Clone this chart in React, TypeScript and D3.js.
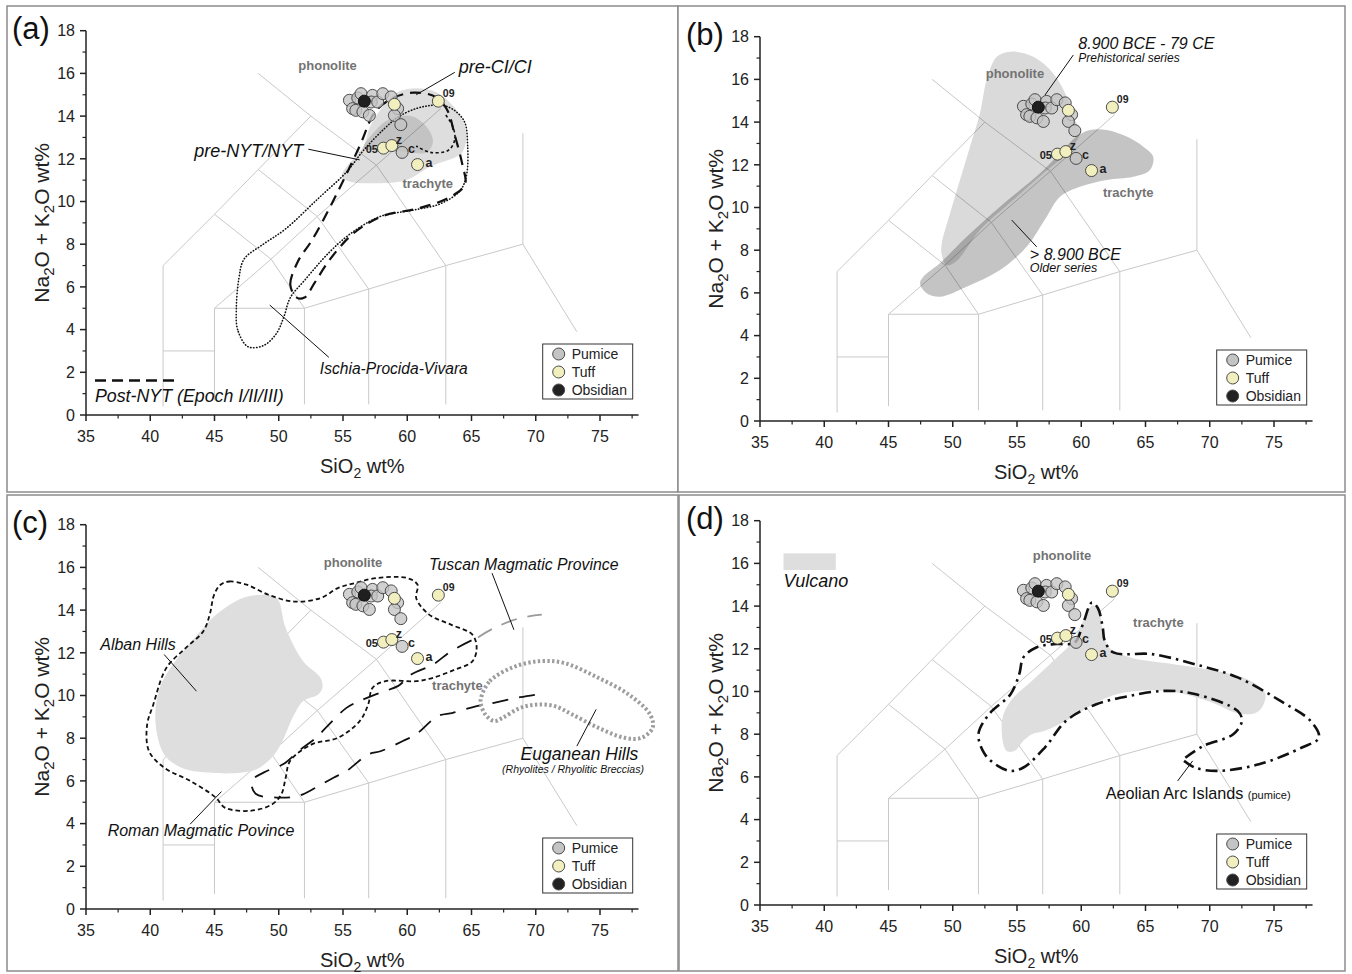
import React from 'react';
import * as d3 from 'd3';

type Pt = [number, number];

// axis ticks
const xTicks = [35, 40, 45, 50, 55, 60, 65, 70, 75];
const xMinorTicks = [37.5, 42.5, 47.5, 52.5, 57.5, 62.5, 67.5, 72.5, 77.5];
const yTicks = [0, 2, 4, 6, 8, 10, 12, 14, 16, 18];
const yMinorTicks = [1, 3, 5, 7, 9, 11, 13, 15, 17];

// samples (SiO2 wt%, Na2O+K2O wt%)
const pumiceSiO2 = [55.5, 56.15, 56.4, 55.75, 56.0, 56.55, 57.05, 57.3, 57.2, 57.7, 58.1, 58.75, 59.25, 59.0, 59.5, 59.6];
const pumiceAlk = [14.74, 14.85, 15.05, 14.35, 14.27, 14.2, 14.03, 14.97, 14.66, 14.66, 15.05, 14.9, 14.35, 14.03, 13.6, 12.3];
const tuffSiO2 = [59.0, 62.42, 58.15, 58.8, 60.8];
const tuffAlk = [14.55, 14.7, 12.5, 12.62, 11.73];
const obsidianSiO2 = [56.66];
const obsidianAlk = [14.7];

// sample names
const sampleNames = ['09', '05', 'z', 'c', 'a'];
const sampleSiO2 = [62.42, 58.15, 58.8, 59.6, 60.8];
const sampleAlk = [14.7, 12.5, 12.62, 12.3, 11.73];

// TAS field boundaries
const tasLines: Pt[][] = [
  [[41, 0.4], [41, 7], [45, 9.4], [48.4, 11.5], [52.5, 14]],
  [[41, 3], [45, 3]],
  [[45, 0.7], [45, 5], [52, 5], [57, 5.9], [63, 7], [69, 8], [69, 13.2]],
  [[69, 8], [73.2, 3.9]],
  [[45, 5], [49.4, 7.3], [53, 9.3], [57.6, 11.7], [62.6, 14.35]],
  [[52, 5], [49.4, 7.3], [45, 9.4]],
  [[57, 5.9], [53, 9.3], [48.4, 11.5]],
  [[63, 7], [57.6, 11.7], [52.5, 14], [48.4, 16]],
  [[52, 0.5], [52, 5]],
  [[57, 0.5], [57, 5.9]],
  [[63, 0.5], [63, 7]],
];

// (a) Campi Flegrei fields
const preNytField: Pt[] = [[54.9, 11.2], [56.6, 12.6], [57.1, 13.5], [58.1, 14.45], [59.2, 15.1], [60.7, 15.3], [62.3, 15.1], [63.6, 14.45], [64.4, 13.67], [64.6, 12.9], [64.25, 12.27], [63.85, 12.1], [61.8, 11.64], [60.0, 11.02], [57.9, 10.86], [55.5, 10.94]];
const preNytCore: Pt[] = [[56.6, 12.5], [57.5, 13.3], [58.6, 13.85], [60.3, 14.0], [61.5, 13.5], [62.0, 12.8], [61.5, 12.3], [59.5, 12.35], [57.8, 12.4]];
const preCiOutline: Pt[] = [[51.4, 5.5], [50.9, 6.1], [51.5, 7.2], [52.6, 8.2], [54.3, 10.1], [56.3, 12.6], [57.5, 14.2], [58.9, 14.85], [60.5, 15.1], [62.2, 14.9], [63.1, 14.3], [63.7, 13.1], [64.3, 11.7], [64.5, 10.8], [63.3, 10.2], [61, 9.7], [58, 9.3], [55.8, 8.5], [54, 7.3], [52.8, 6.2], [52, 5.5]];
const ischiaOutline: Pt[] = [[47.6, 3.2], [46.8, 4.0], [46.7, 5.0], [46.9, 6.4], [47.3, 7.3], [48.8, 8.0], [50.5, 8.7], [53, 10.1], [55.3, 11.4], [56.6, 12.4], [58.2, 13.4], [59.4, 14.0], [61.3, 14.45], [63.1, 14.45], [64.4, 13.8], [64.7, 12.6], [64.6, 11.2], [64.1, 10.5], [62.6, 9.9], [60.5, 9.6], [57.9, 9.3], [55.6, 8.5], [53.9, 7.6], [52, 6.3], [50.9, 5.5], [50.4, 4.6], [49.8, 3.8], [48.8, 3.25]];
const innerHook: Pt[] = [[63.0, 14.05], [63.55, 13.5], [63.7, 12.9], [63.2, 12.4], [61.8, 12.3], [60.7, 12.6]];
const postNytKey: Pt[] = [[35.7, 1.62], [41.9, 1.62]];

// (b) Somma-Vesuvius
const prehistoricField: Pt[] = [[54.46, 17.3], [56.27, 17.06], [57.83, 16.28], [58.87, 15.19], [59.38, 14.25], [59.9, 13.5], [58.87, 12.54], [57.05, 11.6], [54.7, 10.35], [52.12, 8.95], [50.3, 7.5], [49.5, 7.3], [49.14, 7.8], [49.14, 8.3], [49.79, 9.73], [50.56, 11.29], [51.34, 12.85], [52.12, 14.41], [52.64, 15.97], [53.42, 17.06]];
const olderField: Pt[] = [[47.45, 6.45], [47.97, 5.98], [49.0, 5.82], [51.08, 6.29], [53.68, 7.07], [55.75, 8.16], [57.31, 9.57], [58.35, 10.5], [59.9, 10.97], [61.98, 11.29], [64.05, 11.44], [65.35, 11.76], [65.6, 12.38], [64.83, 12.85], [63.54, 13.32], [61.98, 13.63], [60.68, 13.63], [59.64, 13.32], [58.35, 12.54], [56.79, 11.6], [53.68, 10.04], [51.08, 8.63], [49.0, 7.39], [47.71, 6.76]];

// (c) central Italy
const albanField: Pt[] = [[49.86, 14.56], [50.54, 13.16], [51.9, 11.6], [53.24, 10.83], [53.4, 10.36], [53.07, 10.05], [51.9, 9.74], [51.2, 9.11], [49.86, 7.4], [48.5, 6.62], [47.16, 6.39], [44.46, 6.39], [42.43, 6.62], [41.08, 7.24], [40.4, 8.8], [40.74, 10.36], [41.76, 11.45], [43.45, 12.69], [45.14, 13.79], [47.16, 14.56], [48.85, 14.72]];
const romanOutline: Pt[] = [[45.47, 15.19], [46.15, 15.34], [47.5, 15.19], [49.2, 14.72], [51.2, 14.4], [53.24, 14.56], [54.6, 15.03], [55.9, 15.26], [57.6, 15.5], [60.0, 15.5], [60.8, 15.19], [60.7, 14.56], [61.7, 13.79], [63.4, 13.32], [65.07, 12.85], [65.4, 12.23], [65.07, 11.6], [63.7, 11.21], [62.0, 10.83], [60.7, 10.67], [58.3, 10.67], [57.3, 10.36], [56.96, 9.58], [56.3, 8.8], [54.6, 8.02], [52.57, 7.71], [50.88, 6.93], [50.54, 6.15], [50.2, 5.37], [49.5, 4.91], [47.8, 4.6], [45.8, 4.75], [45.1, 5.22], [43.1, 6.0], [41.08, 6.62], [39.9, 7.4], [39.75, 8.6], [40.24, 9.58], [41.25, 11.29], [42.77, 12.23], [44.12, 13.0], [44.63, 13.79], [44.97, 14.72]];
const tuscanOutline: Pt[] = [[65.0, 12.58], [63.4, 12.07], [62.0, 11.45], [60.3, 10.98], [59.3, 10.45], [57.97, 10.15], [56.28, 9.74], [55.27, 9.42], [53.9, 8.64], [52.9, 8.02], [51.55, 7.4], [50.4, 6.8], [48.85, 6.4], [47.9, 6.0], [48.2, 5.4], [49.86, 5.22], [51.55, 5.3], [52.9, 5.69], [54.26, 6.15], [55.27, 6.46], [56.96, 7.24], [57.97, 7.4], [59.66, 7.87], [60.68, 8.18], [62.36, 9.03], [63.55, 9.19], [65.4, 9.5], [66.76, 9.66], [68.8, 9.92], [70.1, 10.05]];
const tuscanFaded: Pt[] = [[65.5, 12.72], [66.76, 13.16], [68.8, 13.63], [70.47, 13.79]];
const euganeanOutline: Pt[] = [[65.74, 9.89], [66.42, 10.67], [68.1, 11.29], [70.14, 11.6], [72.16, 11.53], [74.86, 10.83], [77.23, 10.05], [78.9, 9.11], [79.1, 8.49], [78.24, 8.02], [76.9, 8.02], [74.86, 8.49], [72.84, 9.11], [71.5, 9.5], [70.14, 9.58], [68.8, 9.42], [67.43, 8.96], [66.76, 8.8], [66.08, 9.11], [65.74, 9.58]];

// (d) Aeolian arc
const vulcanoField: Pt[] = [[54.17, 7.22], [53.83, 8.63], [54.5, 9.56], [56.17, 10.5], [57.83, 11.44], [59.17, 12.22], [60.17, 13.31], [60.83, 14.02], [61.33, 13.86], [61.67, 12.84], [62.17, 12.06], [63.83, 11.59], [67.17, 11.28], [70.5, 10.97], [73.17, 10.5], [74.33, 9.88], [73.83, 9.09], [72.5, 8.94], [69.83, 9.56], [66.5, 10.03], [62.83, 9.88], [60.5, 9.25], [58.83, 8.63], [57.17, 8.16], [56.17, 8.0], [55.5, 7.69], [54.83, 7.22]];
const aeolianOutline: Pt[] = [[68.1, 6.9], [69.5, 7.45], [71.83, 8.0], [72.5, 8.63], [72.17, 9.09], [68.83, 9.88], [66.5, 10.03], [63.83, 9.8], [61.17, 9.4], [58.83, 8.63], [57.17, 7.375], [55.5, 6.44], [54.5, 6.28], [53.5, 6.52], [52.5, 7.06], [52.0, 8.0], [52.83, 8.94], [54.5, 9.875], [55.17, 10.8], [55.5, 11.6], [56.5, 12.06], [57.83, 12.22], [59.5, 12.3], [60.1, 13.1], [60.83, 14.17], [61.3, 13.9], [61.67, 13.0], [61.83, 12.37], [62.5, 11.83], [65.5, 11.75], [68.83, 11.28], [72.17, 10.66], [75.5, 9.56], [77.83, 8.63], [78.5, 7.84], [77.17, 7.375], [73.83, 6.59], [70.5, 6.28], [68.83, 6.44], [68.0, 6.75]];
const vulcanoKey: Pt[] = [[36.83, 16.47], [40.9, 15.69]];

const FONT = "'Liberation Sans', Arial, Helvetica, sans-serif";
const PX_X = 12.85;
const PX_Y = 21.35;

interface PanelCfg { id: string; frame: [number, number, number, number]; ox: number; oy: number; }

const panels: PanelCfg[] = [
  { id: 'a', frame: [7, 6, 678, 492], ox: 86, oy: 415 },
  { id: 'b', frame: [678, 6, 1345, 492], ox: 760, oy: 421 },
  { id: 'c', frame: [7, 495, 678, 971], ox: 86, oy: 909 },
  { id: 'd', frame: [679, 495, 1345, 971], ox: 760, oy: 905 },
];

type Sc = d3.ScaleLinear<number, number>;

const closedPath = (x: Sc, y: Sc, pts: Pt[]) =>
  d3.line<Pt>().x(d => x(d[0])).y(d => y(d[1])).curve(d3.curveCatmullRomClosed.alpha(0.5))(pts) || '';
const openPath = (x: Sc, y: Sc, pts: Pt[]) =>
  d3.line<Pt>().x(d => x(d[0])).y(d => y(d[1])).curve(d3.curveCatmullRom.alpha(0.5))(pts) || '';
const straight = (x: Sc, y: Sc, pts: Pt[]) =>
  d3.line<Pt>().x(d => x(d[0])).y(d => y(d[1]))(pts) || '';

const Lbl = (p: any) => <text fontFamily={FONT} {...p} />;

const fieldName = (x: Sc, y: Sc, name: string, si: number, alk: number) => (
  <Lbl x={x(si)} y={y(alk)} textAnchor="middle" fontSize={13} fontWeight="bold" fill="#737373">{name}</Lbl>
);

const leader = (x: Sc, y: Sc, a: Pt, b: Pt) => (
  <line x1={x(a[0])} y1={y(a[1])} x2={x(b[0])} y2={y(b[1])} stroke="#111" strokeWidth={1} />
);

function overlayA(x: Sc, y: Sc) {
  return (
    <g>
      <path d={closedPath(x, y, preNytField)} fill="#000" fillOpacity={0.13} />
      <path d={closedPath(x, y, preNytCore)} fill="#000" fillOpacity={0.12} />
      <path d={closedPath(x, y, ischiaOutline)} fill="none" stroke="#111" strokeWidth={1.6} strokeDasharray="0.4 2.6" strokeLinecap="round" />
      <path d={closedPath(x, y, preCiOutline)} fill="none" stroke="#111" strokeWidth={2.2} strokeDasharray="11 7" />
      <path d={openPath(x, y, innerHook)} fill="none" stroke="#111" strokeWidth={1.6} strokeDasharray="3 2.5" />
      <path d={straight(x, y, postNytKey)} stroke="#111" strokeWidth={2.5} strokeDasharray="11 6" />
      {fieldName(x, y, 'phonolite', 53.8, 16.15)}
      {fieldName(x, y, 'trachyte', 61.6, 10.65)}
      {leader(x, y, [60.7, 15.0], [63.7, 16.05])}
      <Lbl x={x(64.0)} y={y(16.0)} fontSize={18} fontStyle="italic" fill="#111">pre-CI/CI</Lbl>
      {leader(x, y, [52.3, 12.45], [56.3, 11.95])}
      <Lbl x={x(51.9)} y={y(12.1)} textAnchor="end" fontSize={18} fontStyle="italic" fill="#111">pre-NYT/NYT</Lbl>
      {leader(x, y, [49.3, 5.15], [53.9, 2.7])}
      <Lbl x={x(53.2)} y={y(1.92)} fontSize={15.6} fontStyle="italic" fill="#111">Ischia-Procida-Vivara</Lbl>
      <Lbl x={x(35.7)} y={y(0.6)} fontSize={17.8} fontStyle="italic" fill="#111">Post-NYT (Epoch I/II/III)</Lbl>
    </g>
  );
}

function overlayB(x: Sc, y: Sc) {
  return (
    <g>
      <path d={closedPath(x, y, prehistoricField)} fill="#000" fillOpacity={0.145} />
      <path d={closedPath(x, y, olderField)} fill="#000" fillOpacity={0.23} />
      {fieldName(x, y, 'phonolite', 54.84, 16.05)}
      {fieldName(x, y, 'trachyte', 63.66, 10.5)}
      {leader(x, y, [57.18, 15.27], [59.38, 17.14])}
      <Lbl x={x(59.77)} y={y(17.42)} fontSize={16} fontStyle="italic" fill="#111">8.900 BCE - 79 CE</Lbl>
      <Lbl x={x(59.77)} y={y(16.82)} fontSize={12} fontStyle="italic" fill="#111">Prehistorical series</Lbl>
      {leader(x, y, [54.59, 9.41], [56.53, 8.16])}
      <Lbl x={x(56.0)} y={y(7.54)} fontSize={16} fontStyle="italic" fill="#111">&gt; 8.900 BCE</Lbl>
      <Lbl x={x(56.0)} y={y(6.98)} fontSize={12.5} fontStyle="italic" fill="#111">Older series</Lbl>
    </g>
  );
}

function overlayC(x: Sc, y: Sc) {
  return (
    <g>
      <path d={closedPath(x, y, albanField)} fill="#dedede" />
      <path d={closedPath(x, y, romanOutline)} fill="none" stroke="#111" strokeWidth={1.8} strokeDasharray="4.5 3" />
      <path d={openPath(x, y, tuscanOutline)} fill="none" stroke="#111" strokeWidth={1.8} strokeDasharray="16 11" />
      <path d={openPath(x, y, tuscanFaded)} fill="none" stroke="#9a9a9a" strokeWidth={1.8} strokeDasharray="16 11" />
      <path d={closedPath(x, y, euganeanOutline)} fill="none" stroke="#9d9d9d" strokeWidth={4} strokeDasharray="2.4 2.4" />
      {fieldName(x, y, 'phonolite', 55.78, 16.0)}
      {fieldName(x, y, 'trachyte', 63.9, 10.28)}
      {leader(x, y, [66.6, 15.73], [68.3, 13.08])}
      <Lbl x={x(61.7)} y={y(15.9)} fontSize={15.8} fontStyle="italic" fill="#111">Tuscan Magmatic Province</Lbl>
      {leader(x, y, [41.08, 11.92], [43.6, 10.2])}
      <Lbl x={x(39.05)} y={y(12.15)} textAnchor="middle" fontSize={16} fontStyle="italic" fill="#111">Alban Hills</Lbl>
      {leader(x, y, [43.1, 3.97], [45.54, 5.5])}
      <Lbl x={x(43.95)} y={y(3.43)} textAnchor="middle" fontSize={16} fontStyle="italic" fill="#111">Roman Magmatic Povince</Lbl>
      {leader(x, y, [73.2, 7.63], [74.7, 9.35])}
      <Lbl x={x(73.4)} y={y(7.0)} textAnchor="middle" fontSize={17.5} fontStyle="italic" fill="#111">Euganean Hills</Lbl>
      <Lbl x={x(72.9)} y={y(6.39)} textAnchor="middle" fontSize={10.5} fontStyle="italic" fill="#111">(Rhyolites / Rhyolitic Breccias)</Lbl>
    </g>
  );
}

function overlayD(x: Sc, y: Sc) {
  return (
    <g>
      <path d={closedPath(x, y, vulcanoField)} fill="#dedede" />
      <path d={openPath(x, y, aeolianOutline)} fill="none" stroke="#111" strokeWidth={2.6} strokeDasharray="12 5 2.5 5" />
      <rect x={x(vulcanoKey[0][0])} y={y(vulcanoKey[0][1])} width={x(vulcanoKey[1][0]) - x(vulcanoKey[0][0])} height={y(vulcanoKey[1][1]) - y(vulcanoKey[0][1])} fill="#dedede" />
      <Lbl x={x(36.83)} y={y(14.9)} fontSize={18} fontStyle="italic" fill="#111">Vulcano</Lbl>
      {fieldName(x, y, 'phonolite', 58.5, 16.16)}
      {fieldName(x, y, 'trachyte', 66.0, 13.0)}
      {leader(x, y, [67.5, 5.81], [68.67, 6.75])}
      <Lbl x={x(61.9)} y={y(4.98)} fontSize={16.2} fill="#111">Aeolian Arc Islands <tspan fontSize={11}>(pumice)</tspan></Lbl>
    </g>
  );
}

const overlays: Record<string, (x: Sc, y: Sc) => React.ReactNode> = { a: overlayA, b: overlayB, c: overlayC, d: overlayD };

const labelOffsets: Record<string, { dx: number; dy: number; anchor: string; size: number }> = {
  '09': { dx: 4.5, dy: -4, anchor: 'start', size: 10.5 },
  '05': { dx: -5.5, dy: 5, anchor: 'end', size: 11 },
  z: { dx: 4, dy: -2, anchor: 'start', size: 12.5 },
  c: { dx: 6, dy: 1, anchor: 'start', size: 12.5 },
  a: { dx: 8, dy: 2.5, anchor: 'start', size: 12.5 },
};

function Panel({ cfg }: { cfg: PanelCfg }) {
  const x = d3.scaleLinear().domain([35, 78]).range([cfg.ox, cfg.ox + 43 * PX_X]);
  const y = d3.scaleLinear().domain([0, 18]).range([cfg.oy, cfg.oy - 18 * PX_Y]);
  const [fx0, fy0, fx1, fy1] = cfg.frame;
  const legX = cfg.ox + 456.7;
  const legY = cfg.oy - 71;
  const legendItems = [
    { name: 'Pumice', fill: '#c4c4c4' },
    { name: 'Tuff', fill: '#f2efbf' },
    { name: 'Obsidian', fill: '#222' },
  ];
  return (
    <g>
      <rect x={fx0} y={fy0} width={fx1 - fx0} height={fy1 - fy0} fill="#fff" stroke="#8c8c8c" strokeWidth={1.5} />
      {tasLines.map((l, i) => (
        <path key={i} d={straight(x, y, l)} fill="none" stroke="#c9c9c9" strokeWidth={1} />
      ))}
      {overlays[cfg.id](x, y)}
      {pumiceSiO2.map((s, i) => (
        <circle key={'p' + i} cx={x(s)} cy={y(pumiceAlk[i])} r={6} fill="#c4c4c4" fillOpacity={0.78} stroke="#4a4a4a" strokeWidth={1} />
      ))}
      {tuffSiO2.map((s, i) => (
        <circle key={'t' + i} cx={x(s)} cy={y(tuffAlk[i])} r={6} fill="#f2efbf" stroke="#4a4a4a" strokeWidth={1} />
      ))}
      {obsidianSiO2.map((s, i) => (
        <circle key={'o' + i} cx={x(s)} cy={y(obsidianAlk[i])} r={6} fill="#1f1f1f" stroke="#111" strokeWidth={1} />
      ))}
      {sampleNames.map((n, i) => {
        const o = labelOffsets[n];
        return (
          <Lbl key={n} x={x(sampleSiO2[i]) + o.dx} y={y(sampleAlk[i]) + o.dy} textAnchor={o.anchor} fontSize={o.size} fontWeight="bold" fill="#222">{n}</Lbl>
        );
      })}
      {/* axes */}
      <line x1={x(35)} x2={x(78)} y1={y(0)} y2={y(0)} stroke="#222" strokeWidth={1.5} />
      <line x1={x(35)} x2={x(35)} y1={y(0)} y2={y(18)} stroke="#222" strokeWidth={1.5} />
      {xTicks.map(t => (
        <g key={'xt' + t}>
          <line x1={x(t)} x2={x(t)} y1={y(0)} y2={y(0) + 6} stroke="#222" strokeWidth={1.5} />
          <Lbl x={x(t)} y={y(0) + 27} textAnchor="middle" fontSize={16} fill="#222">{t}</Lbl>
        </g>
      ))}
      {xMinorTicks.map(t => (
        <line key={'xm' + t} x1={x(t)} x2={x(t)} y1={y(0)} y2={y(0) + 3.5} stroke="#222" strokeWidth={1.2} />
      ))}
      {yTicks.map(t => (
        <g key={'yt' + t}>
          <line x1={x(35) - 6} x2={x(35)} y1={y(t)} y2={y(t)} stroke="#222" strokeWidth={1.5} />
          <Lbl x={x(35) - 11} y={y(t)} dy="0.36em" textAnchor="end" fontSize={16} fill="#222">{t}</Lbl>
        </g>
      ))}
      {yMinorTicks.map(t => (
        <line key={'ym' + t} x1={x(35) - 3.5} x2={x(35)} y1={y(t)} y2={y(t)} stroke="#222" strokeWidth={1.2} />
      ))}
      <Lbl x={(x(35) + x(78)) / 2} y={y(0) + 58} textAnchor="middle" fontSize={20} fill="#222">
        SiO<tspan dy={5} fontSize={14}>2</tspan><tspan dy={-5}> wt%</tspan>
      </Lbl>
      <Lbl transform={`translate(${x(35) - 37},${(y(0) + y(18)) / 2}) rotate(-90)`} textAnchor="middle" fontSize={21} fill="#222">
        Na<tspan dy={5} fontSize={15}>2</tspan><tspan dy={-5}>O + K</tspan><tspan dy={5} fontSize={15}>2</tspan><tspan dy={-5}>O wt%</tspan>
      </Lbl>
      <Lbl x={x(35) - 74} y={y(18) + 8} fontSize={31} fill="#111">({cfg.id})</Lbl>
      {/* legend */}
      <rect x={legX} y={legY} width={90} height={55} fill="#fff" stroke="#333" strokeWidth={1} />
      {legendItems.map((it, i) => (
        <g key={it.name}>
          <circle cx={legX + 16} cy={legY + 10 + i * 18} r={6} fill={it.fill} stroke="#4a4a4a" strokeWidth={1} />
          <Lbl x={legX + 29} y={legY + 10 + i * 18} dy="0.36em" fontSize={14} fill="#222">{it.name}</Lbl>
        </g>
      ))}
    </g>
  );
}

export default function App() {
  return (
    <svg width={1352} height={974} viewBox="0 0 1352 974" style={{ position: 'absolute', left: 0, top: 0, background: '#fff' }}>
      <rect x={0} y={0} width={1352} height={974} fill="#fff" />
      {panels.map(p => <Panel key={p.id} cfg={p} />)}
    </svg>
  );
}
